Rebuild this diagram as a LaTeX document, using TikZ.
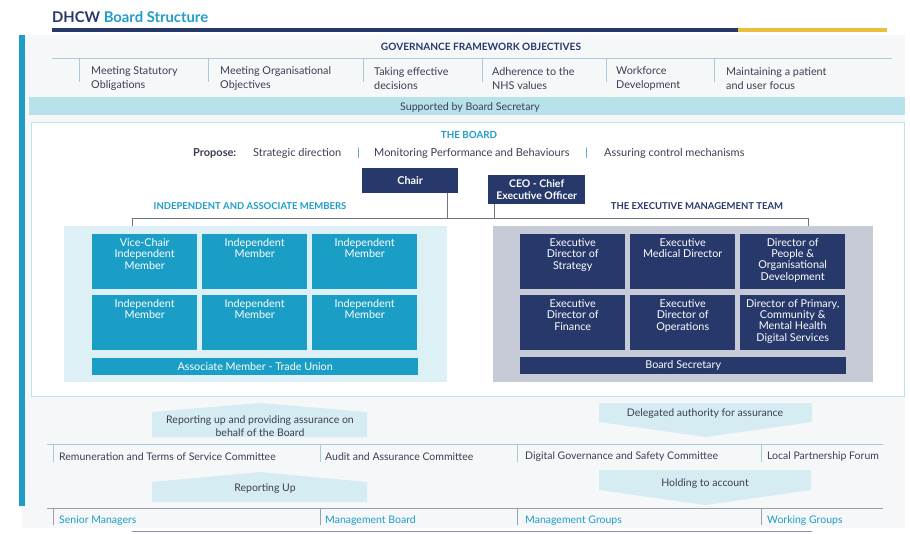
\documentclass[tikz,border=0pt]{standalone}
\usepackage{fontspec}
\setmainfont{Lato}
\definecolor{navy}{HTML}{27386B}
\definecolor{tealbar}{HTML}{1E9CC5}
\definecolor{tealtxt}{HTML}{1E9DC8}
\definecolor{membfill}{HTML}{1B9EC6}
\definecolor{indpanelc}{HTML}{DCF0F5}
\definecolor{execpanelc}{HTML}{C7CAD7}
\definecolor{bandc}{HTML}{B7E2EC}
\definecolor{arrowc}{HTML}{D5ECF3}
\definecolor{gold}{HTML}{E9C03E}
\definecolor{txtc}{HTML}{3B3F52}
\definecolor{sepc}{HTML}{A6CCD7}
\definecolor{linec}{HTML}{6E7386}
\definecolor{bgc}{HTML}{F6F7F9}
\definecolor{borderc}{HTML}{BFE3EC}
\definecolor{greyline}{HTML}{9AA0AD}
\definecolor{lavender}{HTML}{8A90C4}
\newcommand\fsz[2]{\fontsize{#1}{#2}\selectfont}
\begin{document}
\begin{tikzpicture}[x=1pt,y=-1pt,
  plain/.style={inner sep=0pt, text=txtc, font=\fsz{10.8}{14}, yshift=-1.5pt},
  objtxt/.style={plain, anchor=west, align=left},
  memb/.style={fill=membfill, minimum width=105pt, minimum height=55pt, anchor=north west, inner sep=0pt},
  execb/.style={fill=navy, minimum width=105pt, minimum height=55pt, anchor=north west, inner sep=0pt},
  boxtxt/.style={inner sep=0pt, text=white, font=\fsz{10.8}{11.2}, align=center, anchor=north},
  conn/.style={draw=linec, line width=0.8pt},
  sep/.style={draw=sepc, line width=0.8pt},
  gsep/.style={draw=greyline, line width=0.8pt},
  arrowshape/.style={fill=arrowc},
  comtxt/.style={inner sep=0pt, text=txtc, font=\fsz{10.5}{12}, anchor=west, yshift=-1.5pt},
  grptxt/.style={inner sep=0pt, text=tealtxt, font=\fsz{10.5}{12}, anchor=west, yshift=-1.5pt},
]
\useasboundingbox (0,0) rectangle (910,533);
% background panel and left bar
\fill[bgc] (22,35) rectangle (905,528);
\fill[tealbar] (19,35) rectangle (25,506);
% title
\node[anchor=west, inner sep=0pt, font=\fsz{14.8}{16}\bfseries] (title) at (52,17) {\textcolor{navy}{DHCW} \textcolor{tealtxt}{Board Structure}};
\fill[navy] (52,28) rectangle (738,32);
\fill[gold] (738,28) rectangle (887,32);
% governance framework
\node[inner sep=0pt, text=navy, font=\fsz{10.1}{11}\bfseries] (gfo) at (481,47) {GOVERNANCE FRAMEWORK OBJECTIVES};
\draw[draw=sepc, line width=1pt] (52,58.5) -- (892,58.5);
\foreach \xx in {79,208,363,482,606,714} \draw[sep] (\xx,59) -- (\xx,82);
\node[objtxt] (o1) at (91,77) {Meeting Statutory\\Obligations};
\node[objtxt] (o2) at (220,77) {Meeting Organisational\\Objectives};
\node[objtxt] (o3) at (374,77) {Taking effective\\decisions};
\node[objtxt] (o4) at (492,77) {Adherence to the\\NHS values};
\node[objtxt] (o5) at (616,77) {Workforce\\Development};
\node[objtxt] (o6) at (726,77) {Maintaining a patient\\and user focus};
% supported band
\fill[bandc] (29,97) rectangle (905,115);
\node[plain, font=\fsz{10.6}{12}] (supp) at (470,106) {Supported by Board Secretary};
% board box
\draw[draw=borderc, fill=white, line width=1pt] (31,122) rectangle (904,396);
\node[inner sep=0pt, text=tealtxt, font=\fsz{9.8}{11}\bfseries] (theboard) at (469,135) {THE BOARD};
\node[plain, anchor=west, font=\fsz{11}{12}\bfseries] (prop) at (193,152) {Propose:};
\node[plain, anchor=west, font=\fsz{11}{12}] (p1) at (253,152) {Strategic direction};
\node[plain, anchor=west, text=tealtxt, font=\fsz{11}{12}] (bar1) at (357,152) {|};
\node[plain, anchor=west, font=\fsz{11}{12}] (p2) at (374,152) {Monitoring Performance and Behaviours};
\node[plain, anchor=west, text=tealtxt, font=\fsz{11}{12}] (bar2) at (585,152) {|};
\node[plain, anchor=west, font=\fsz{11}{12}] (p3) at (604,152) {Assuring control mechanisms};
% chair and ceo
\node[fill=navy, minimum width=96pt, minimum height=25pt, anchor=north west, inner sep=0pt, text=white, font=\fsz{10.8}{12}\bfseries] (chair) at (362,168) {Chair};
\node[fill=navy, minimum width=97pt, minimum height=29pt, anchor=north west, inner sep=0pt, text=white, font=\fsz{10.5}{11.5}\bfseries, align=center] (ceo) at (488,175) {CEO - Chief\\Executive Officer};
% headings
\node[inner sep=0pt, text=tealtxt, font=\fsz{9.5}{11}\bfseries] (indh) at (250,206) {INDEPENDENT AND ASSOCIATE MEMBERS};
\node[inner sep=0pt, text=navy, font=\fsz{9.5}{11}\bfseries] (exech) at (697,206) {THE EXECUTIVE MANAGEMENT TEAM};
% panels
\node[fill=indpanelc, minimum width=383pt, minimum height=156pt, anchor=north west, inner sep=0pt] (indpanel) at (64,226) {};
\node[fill=execpanelc, minimum width=380pt, minimum height=156pt, anchor=north west, inner sep=0pt] (execpanel) at (493,226) {};
% connectors
\coordinate (jL) at (132,218);
\coordinate (jR) at (808,218);
\draw[conn] (jL) -- (jR);
\draw[conn] ([xshift=37pt]chair.south) -- ([xshift=37pt]chair.south |- jL);
\draw[conn] ([xshift=-42.5pt]ceo.south) -- ([xshift=-42.5pt]ceo.south |- jL);
\draw[conn] (jL) -- (jL |- indpanel.north);
\draw[conn] (jR) -- (jR |- execpanel.north);
% member boxes
\node[memb] (m1) at (92,234) {};
\node[memb] (m2) at (202,234) {};
\node[memb] (m3) at (312,234) {};
\node[memb] (m4) at (92,295) {};
\node[memb] (m5) at (202,295) {};
\node[memb] (m6) at (312,295) {};
\node[boxtxt] (m1t) at ([yshift=-4.5pt]m1.north) {Vice-Chair\\Independent\\Member};
\node[boxtxt] (m2t) at ([yshift=-4.5pt]m2.north) {Independent\\Member};
\node[boxtxt] (m3t) at ([yshift=-4.5pt]m3.north) {Independent\\Member};
\node[boxtxt] (m4t) at ([yshift=-4.5pt]m4.north) {Independent\\Member};
\node[boxtxt] (m5t) at ([yshift=-4.5pt]m5.north) {Independent\\Member};
\node[boxtxt] (m6t) at ([yshift=-4.5pt]m6.north) {Independent\\Member};
\node[fill=membfill, minimum width=326pt, minimum height=17pt, anchor=north west, inner sep=0pt, text=white, font=\fsz{10.8}{11}] (assoc) at (92,358) {Associate Member - Trade Union};
% exec boxes
\node[execb] (e1) at (520,234) {};
\node[execb] (e2) at (630,234) {};
\node[execb] (e3) at (740,234) {};
\node[execb] (e4) at (520,295) {};
\node[execb] (e5) at (630,295) {};
\node[execb] (e6) at (740,295) {};
\node[boxtxt] (e1t) at ([yshift=-4.5pt]e1.north) {Executive\\Director of\\Strategy};
\node[boxtxt] (e2t) at ([yshift=-4.5pt]e2.north) {Executive\\Medical Director};
\node[boxtxt] (e3t) at ([yshift=-4.5pt]e3.north) {Director of\\People \&\\Organisational\\Development};
\node[boxtxt] (e4t) at ([yshift=-4.5pt]e4.north) {Executive\\Director of\\Finance};
\node[boxtxt] (e5t) at ([yshift=-4.5pt]e5.north) {Executive\\Director of\\Operations};
\node[boxtxt] (e6t) at ([yshift=-4.5pt]e6.north) {Director of Primary,\\Community \&\\Mental Health\\Digital Services};
\node[fill=navy, minimum width=326pt, minimum height=17pt, anchor=north west, inner sep=0pt, text=white, font=\fsz{10.8}{11}] (bsec) at (520,357) {Board Secretary};
% arrow shapes
\fill[arrowshape] (152,412) -- (260,403) -- (367,412) -- (367,437) -- (152,437) -- cycle;
\node[plain, font=\fsz{10.5}{13}, align=center] (a1t) at (260,424.5) {Reporting up and providing assurance on\\behalf of the Board};
\fill[arrowshape] (599,403) -- (812,403) -- (812,422) -- (705,437) -- (599,422) -- cycle;
\node[plain, font=\fsz{10.5}{12}] (a2t) at (705,412) {Delegated authority for assurance};
\fill[arrowshape] (152,482) -- (260,472) -- (367,482) -- (367,502) -- (152,502) -- cycle;
\node[plain, font=\fsz{10.5}{12}] (a3t) at (265,487) {Reporting Up};
\fill[arrowshape] (599,470) -- (811,470) -- (811,490) -- (705,505) -- (599,490) -- cycle;
\node[plain, font=\fsz{10.5}{12}] (a4t) at (705,482) {Holding to account};
% committees
\draw[sep] (47,444) -- (883,444);
\foreach \xx in {53,320,517,761} \draw[sep] (\xx,444) -- (\xx,462);
\node[comtxt] (c1) at (59,455) {Remuneration and Terms of Service Committee};
\node[comtxt] (c2) at (325,455) {Audit and Assurance Committee};
\node[comtxt] (c3) at (525,455) {Digital Governance and Safety Committee};
\node[comtxt] (c4) at (767,455) {Local Partnership Forum};
% groups
\draw[gsep] (47,508) -- (883,508);
\foreach \xx in {53,320,517,761} \draw[gsep] (\xx,508) -- (\xx,525);
\node[grptxt] (g1) at (59,519) {Senior Managers};
\node[grptxt] (g2) at (325,519) {Management Board};
\node[grptxt] (g3) at (525,519) {Management Groups};
\node[grptxt] (g4) at (767,519) {Working Groups};
\draw[draw=lavender, line width=0.8pt] (132,531) -- (812,531);
\end{tikzpicture}
\end{document}
